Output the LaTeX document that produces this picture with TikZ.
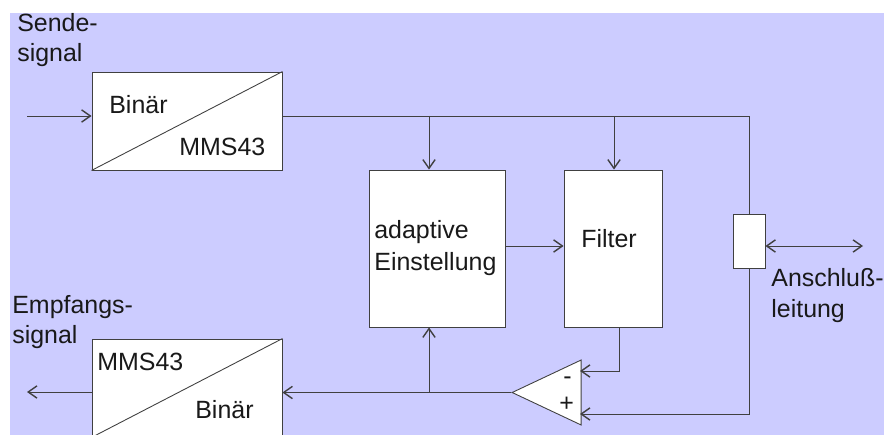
\documentclass[tikz,border=0pt]{standalone}
\usepackage{fontspec}
\setmainfont{Liberation Sans}
\usetikzlibrary{arrows.meta,shapes.geometric}
\tikzset{
	block/.style={draw=black!75, fill=white, line width=0.5pt, inner sep=0pt},
	label/.style={anchor=base west, inner sep=0pt, text=black!90, font=\fontsize{14.2}{17.4}\selectfont},
	wire/.style={draw=black!75, line width=0.5pt},
	sig/.style={wire, -{Straight Barb[length=5pt,width=7pt,line width=0.8pt]}},
	sigboth/.style={wire, {Straight Barb[length=5pt,width=7pt,line width=0.8pt]}-{Straight Barb[length=5pt,width=7pt,line width=0.8pt]}}
}
\begin{document}
\begin{tikzpicture}[x=0.02cm, y=-0.02cm]
	\useasboundingbox (0, 0) rectangle (884, 435);
	\fill [color=blue!20] (10, 13) rectangle (884, 435);

	% blocks
	\node [block, minimum width=3.8cm, minimum height=1.96cm] (coder) at (187, 121) {};
	\node [block, minimum width=3.8cm, minimum height=1.96cm] (decoder) at (187, 388) {};
	\node [block, minimum width=2.72cm, minimum height=3.14cm] (adapt) at (437, 248.5) {};
	\node [block, minimum width=1.96cm, minimum height=3.14cm] (filter) at (613, 248.5) {};
	\node [block, minimum width=0.64cm, minimum height=1.08cm] (hybrid) at (749, 241) {};
	\node [block, isosceles triangle, shape border rotate=180, isosceles triangle stretches,
		minimum width=1.3cm, minimum height=1.38cm, anchor=apex] (diff) at (511, 392.5) {};
	\draw [block] (coder.south west) -- (coder.north east);
	\draw [block] (decoder.south west) -- (decoder.north east);

	% end points
	\coordinate (in) at (27, 116);
	\coordinate (out) at (27, 392);
	\coordinate (line) at (863, 246);
	\coordinate (tapA) at (429, 116);
	\coordinate (tapB) at (614, 116);
	\coordinate (top) at (749, 116);
	\coordinate (minus) at (580, 371);
	\coordinate (plus) at (580, 414);
	\coordinate (tapC) at (429, 392);

	% connections
	\draw [sig] (in) -- (coder.west |- in);
	\draw [wire] (coder.east |- in) -- (top) -- (hybrid.north);
	\draw [sig] (tapA) -- (tapA |- adapt.north);
	\draw [sig] (tapB) -- (tapB |- filter.north);
	\draw [sig] (adapt.east |- line) -- (filter.west |- line);
	\draw [sigboth] (hybrid.east |- line) -- (line);
	\draw [sig] (filter.south -| 619, 0) -- (619, 371) -- (minus);
	\draw [sig] (hybrid.south) -- (749, 414) -- (plus);
	\draw [sig] (diff.apex) -- (decoder.east |- diff.apex);
	\draw [sig] (tapC) -- (tapC |- adapt.south);
	\draw [sig] (decoder.west |- out) -- (out);

	% texts
	\node [label] (sendeA) at (17, 32) {Sende-};
	\node [label] (sendeB) at (17, 62) {signal};
	\node [label] (binA) at (109, 114) {Binär};
	\node [label] (mmsA) at (179, 156) {MMS43};
	\node [label] (empfA) at (12, 313) {Empfangs-};
	\node [label] (empfB) at (12, 343) {signal};
	\node [label] (mmsB) at (97, 370) {MMS43};
	\node [label] (binB) at (195, 418) {Binär};
	\node [label] (adaptA) at (374, 238) {adaptive};
	\node [label] (adaptB) at (374, 270) {Einstellung};
	\node [label] (filterA) at (581, 247) {Filter};
	\node [label] (anschA) at (771, 286) {Anschluß-};
	\node [label] (anschB) at (771, 317) {leitung};
	\node [label] (minusA) at (563, 384) {-};
	\node [label] (plusA) at (559, 411) {+};
\end{tikzpicture}
\end{document}
